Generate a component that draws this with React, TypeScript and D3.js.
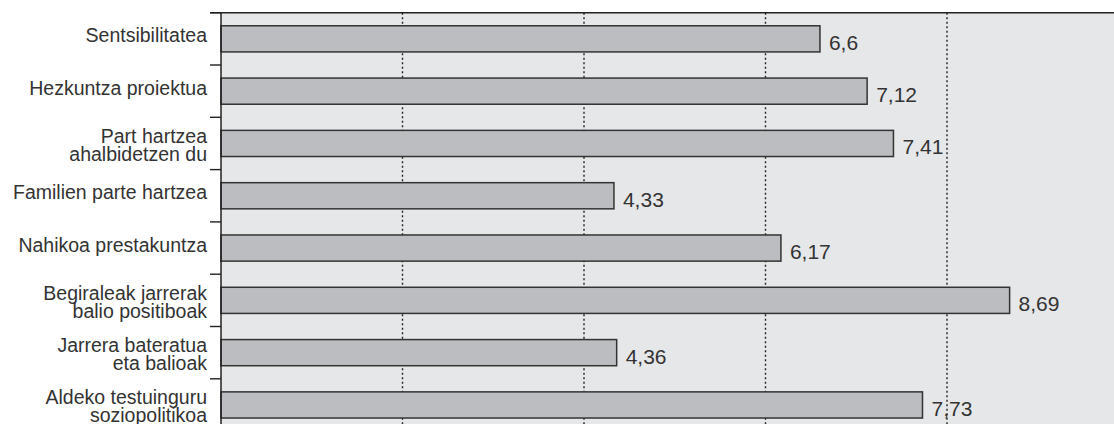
import React, { useEffect, useRef } from 'react';
import * as d3 from 'd3';

// category labels, one entry per line
const categories: string[][] = [
  ['Sentsibilitatea'],
  ['Hezkuntza proiektua'],
  ['Part hartzea', 'ahalbidetzen du'],
  ['Familien parte hartzea'],
  ['Nahikoa prestakuntza'],
  ['Begiraleak jarrerak', 'balio positiboak'],
  ['Jarrera bateratua', 'eta balioak'],
  ['Aldeko testuinguru', 'soziopolitikoa'],
];
const values = [6.6, 7.12, 7.41, 4.33, 6.17, 8.69, 4.36, 7.73];
const gridTicks = [2, 4, 6, 8];

const W = 1114;
const H = 424;

export default function App() {
  const svgRef = useRef<SVGSVGElement>(null);

  useEffect(() => {
    if (!svgRef.current) return;
    const svg = d3.select(svgRef.current);
    svg.selectAll('*').remove();

    const keys = categories.map((c) => c.join(' '));
    const left = 221;
    const top = 12.7;

    const x = d3.scaleLinear().domain([0, 10]).range([left, left + 907.5]);
    const y = d3
      .scaleBand<string>()
      .domain(keys)
      .range([top, top + 8 * 52.3])
      .paddingInner(0.5)
      .paddingOuter(0.25);
    const step = y.step();
    const bw = y.bandwidth();
    const font = '"Liberation Sans", Arial, Helvetica, sans-serif';

    // plot background
    svg.append('rect')
      .attr('x', left)
      .attr('y', top)
      .attr('width', W - left)
      .attr('height', H - top)
      .attr('fill', '#e6e7e8');

    // dotted gridlines
    svg.append('g')
      .selectAll('line')
      .data(gridTicks)
      .join('line')
      .attr('x1', (d) => x(d))
      .attr('x2', (d) => x(d))
      .attr('y1', top)
      .attr('y2', H)
      .attr('stroke', '#222')
      .attr('stroke-width', 1.4)
      .attr('stroke-dasharray', '2,2.5');

    // bars
    svg.append('g')
      .selectAll('rect')
      .data(values)
      .join('rect')
      .attr('x', x(0))
      .attr('y', (_, i) => y(keys[i])!)
      .attr('width', (d) => x(d) - x(0))
      .attr('height', bw)
      .attr('fill', '#bcbdc0')
      .attr('stroke', '#333')
      .attr('stroke-width', 1.5);

    // value labels
    svg.append('g')
      .selectAll('text')
      .data(values)
      .join('text')
      .attr('x', (d) => x(d) + 9)
      .attr('y', (_, i) => y(keys[i])! + bw / 2 + 11)
      .attr('font-family', font)
      .attr('font-size', 21)
      .attr('fill', '#333')
      .text((d) => String(d).replace('.', ','));

    // top border
    svg.append('line')
      .attr('x1', left - 11)
      .attr('x2', W)
      .attr('y1', top)
      .attr('y2', top)
      .attr('stroke', '#222')
      .attr('stroke-width', 1.4);

    // left axis and ticks at band boundaries
    svg.append('line')
      .attr('x1', left)
      .attr('x2', left)
      .attr('y1', top)
      .attr('y2', H)
      .attr('stroke', '#222')
      .attr('stroke-width', 1.5);

    svg.append('g')
      .selectAll('line')
      .data(keys)
      .join('line')
      .attr('x1', left - 11)
      .attr('x2', left)
      .attr('y1', (d) => y(d)! - (step - bw) / 2)
      .attr('y2', (d) => y(d)! - (step - bw) / 2)
      .attr('stroke', '#222')
      .attr('stroke-width', 1.4);

    // category labels
    const labels = svg.append('g')
      .selectAll('text')
      .data(categories)
      .join('text')
      .attr('x', left - 14)
      .attr('y', (c, i) => y(keys[i])! + bw / 2 + (c.length === 1 ? 3.6 : -0.5))
      .attr('text-anchor', 'end')
      .attr('font-family', font)
      .attr('font-size', 19.5)
      .attr('fill', '#333');

    labels
      .selectAll('tspan')
      .data((c) => c)
      .join('tspan')
      .attr('x', left - 14)
      .attr('dy', (_, j) => (j === 0 ? 0 : 18))
      .text((d) => d);
  }, []);

  return (
    <svg
      ref={svgRef}
      width={W}
      height={H}
      style={{ position: 'fixed', left: 0, top: 0, background: '#fff' }}
    />
  );
}
